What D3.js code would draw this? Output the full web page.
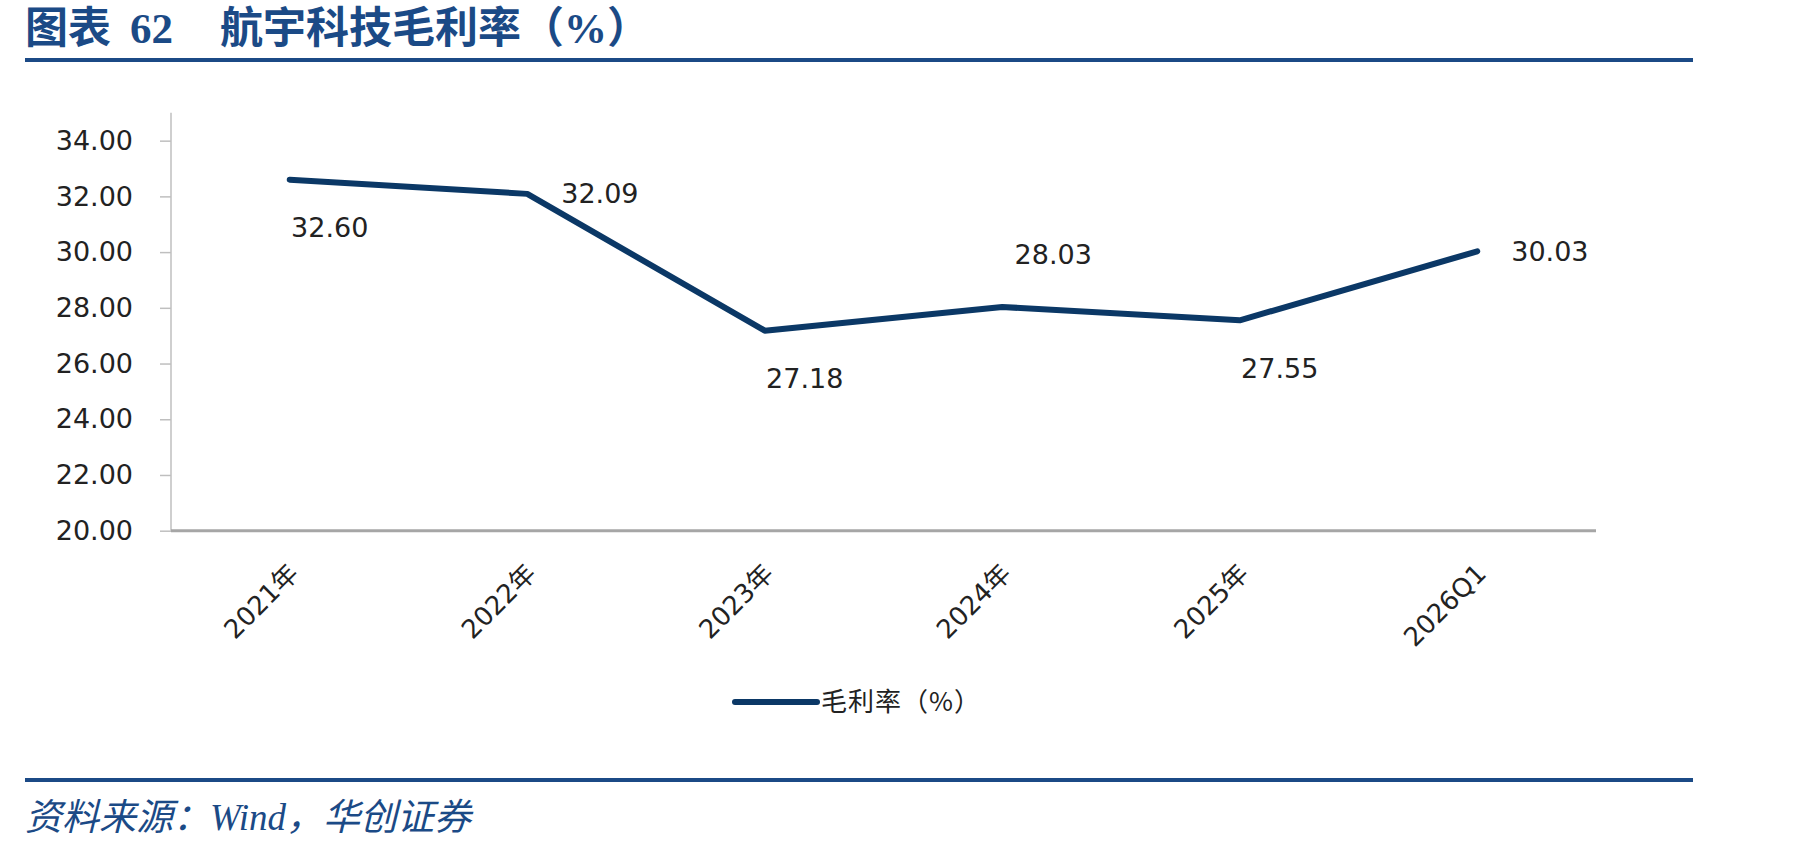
<!DOCTYPE html>
<html>
<head>
<meta charset="utf-8">
<script src="https://cdn.jsdelivr.net/npm/d3@7"></script>
<style>
  body { margin: 0; background: #fff; }
  svg { display: block; }
</style>
</head>
<body>
<svg width="1801" height="848"></svg>
<script>
// data
const categories = ["2021年", "2022年", "2023年", "2024年", "2025年", "2026Q1"]
const grossMargin = [32.60, 32.09, 27.18, 28.03, 27.55, 30.03]
const yTicks = [20, 22, 24, 26, 28, 30, 32, 34]
const seriesName = "毛利率（%）"
const titleText = ["图表", "62", "航宇科技毛利率（%）"]
const sourceText = "资料来源：Wind，华创证券"

// where each value label sits relative to its point
const labelPlace = ["below", "right", "below", "above", "below", "right"]

const navy = "#0b3866"
const titleBlue = "#1b4a86"
const axisFont = "'DejaVu Sans', 'Noto Sans CJK SC', sans-serif"

const svg = d3.select("svg")

const plot = {left: 171, right: 1596, top: 112.8, bottom: 530.7}

const scaleX = d3.scaleBand()
    .domain(categories)
    .range([plot.left, plot.right])
const scaleY = d3.scaleLinear()
    .domain([20, 35])
    .range([plot.bottom, plot.top])
const cx = (d) => scaleX(d) + scaleX.bandwidth() / 2

// title + top rule
const title = svg.append("text")
    .attr("y", 43)
    .attr("fill", titleBlue)
    .style("font-family", "'Liberation Serif', 'Noto Sans CJK SC', serif")
    .style("font-weight", "bold")
    .style("font-size", "43px")
title.append("tspan").attr("x", 25).text(titleText[0])
title.append("tspan").attr("x", 130).text(titleText[1])
title.append("tspan").attr("x", 220).text(titleText[2])

svg.append("rect")
    .attr("x", 25).attr("y", 58)
    .attr("width", 1668).attr("height", 4)
    .attr("fill", titleBlue)

// y axis
const gY = svg.append("g")
    .attr("transform", "translate(" + plot.left + ",0)")
    .call(d3.axisLeft(scaleY).tickValues(yTicks).tickSize(11).tickPadding(27)
        .tickFormat(d3.format(".2f")))
gY.select(".domain").remove()
gY.selectAll(".tick line").attr("stroke", "#bfbfbf").attr("stroke-width", 1.5)
gY.selectAll(".tick text")
    .attr("fill", "#222")
    .style("font-family", axisFont)
    .style("font-size", "27px")
svg.append("line")
    .attr("x1", plot.left).attr("x2", plot.left)
    .attr("y1", scaleY(35)).attr("y2", plot.bottom)
    .attr("stroke", "#bfbfbf").attr("stroke-width", 1.5)

// x axis
const gX = svg.append("g")
    .attr("transform", "translate(0," + plot.bottom + ")")
    .call(d3.axisBottom(scaleX).tickSize(0).tickPadding(0))
gX.select(".domain").remove()
gX.selectAll(".tick text")
    .attr("transform", "translate(4,38) rotate(-45)")
    .attr("text-anchor", "end")
    .attr("dy", "0.35em")
    .attr("fill", "#222")
    .style("font-family", axisFont)
    .style("font-size", "26px")
svg.append("line")
    .attr("x1", plot.left).attr("x2", plot.right)
    .attr("y1", plot.bottom).attr("y2", plot.bottom)
    .attr("stroke", "#a6a6a6").attr("stroke-width", 3)

// line
const line = d3.line()
    .x((d, i) => cx(categories[i]))
    .y((d) => scaleY(d))
svg.append("path")
    .datum(grossMargin)
    .attr("d", line)
    .attr("fill", "none")
    .attr("stroke", navy)
    .attr("stroke-width", 6)
    .attr("stroke-linecap", "round")
    .attr("stroke-linejoin", "round")

// value labels
const offsets = {
    below: {dx: 40, dy: 48, anchor: "middle"},
    above: {dx: 51, dy: -52, anchor: "middle"},
    right: {dx: 34, dy: 0, anchor: "start"}
}
svg.append("g")
    .selectAll("text")
    .data(grossMargin)
    .enter()
    .append("text")
    .attr("x", (d, i) => cx(categories[i]) + offsets[labelPlace[i]].dx)
    .attr("y", (d, i) => scaleY(d) + offsets[labelPlace[i]].dy)
    .attr("dy", "0.35em")
    .attr("text-anchor", (d, i) => offsets[labelPlace[i]].anchor)
    .attr("fill", "#222")
    .style("font-family", axisFont)
    .style("font-size", "27px")
    .text((d) => d3.format(".2f")(d))

// legend
const legend = svg.append("g").attr("transform", "translate(735,702)")
legend.append("line")
    .attr("x1", 0).attr("x2", 82)
    .attr("stroke", navy).attr("stroke-width", 6)
    .attr("stroke-linecap", "round")
legend.append("text")
    .attr("x", 86).attr("dy", "0.35em")
    .attr("fill", "#222")
    .style("font-family", "'Noto Sans CJK SC', sans-serif")
    .style("font-size", "26px")
    .style("letter-spacing", "1px")
    .text(seriesName)

// bottom rule + source
svg.append("rect")
    .attr("x", 25).attr("y", 778)
    .attr("width", 1668).attr("height", 4)
    .attr("fill", titleBlue)
svg.append("text")
    .attr("x", 25).attr("y", 830)
    .attr("fill", titleBlue)
    .style("font-family", "'Liberation Serif', 'Noto Sans CJK SC', serif")
    .style("font-style", "italic")
    .style("font-size", "37px")
    .text(sourceText)
</script>
</body>
</html>
